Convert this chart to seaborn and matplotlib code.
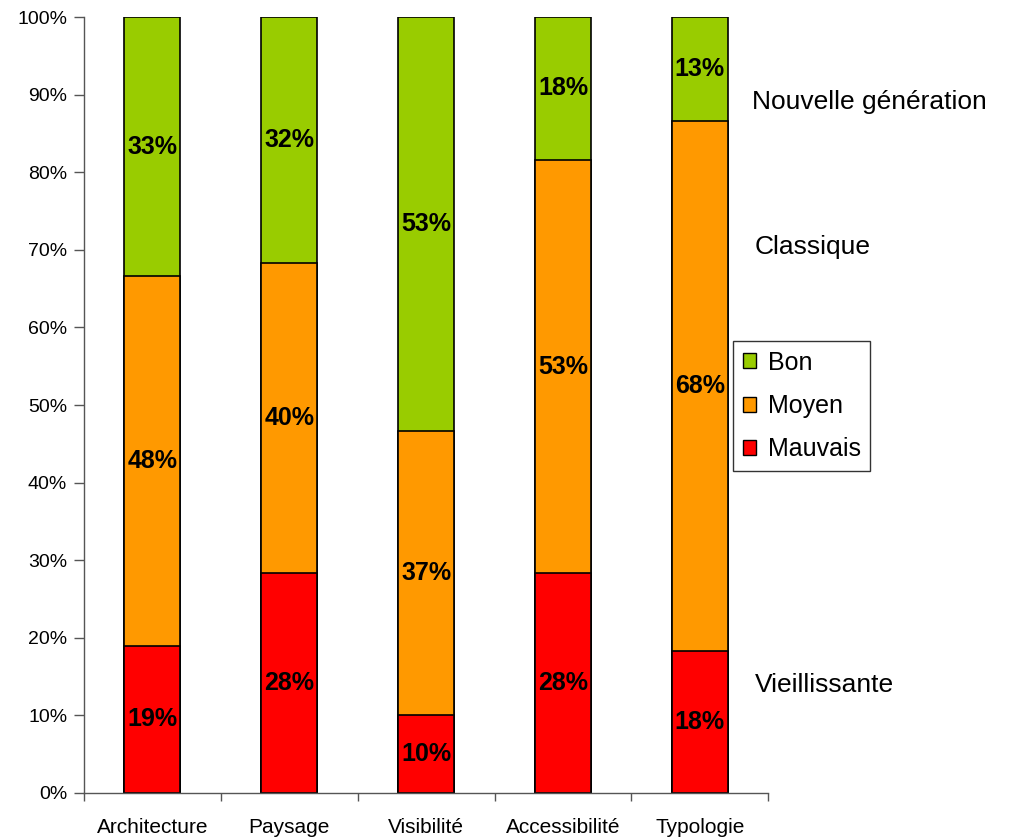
import matplotlib
matplotlib.use("Agg")
import matplotlib.pyplot as plt
from matplotlib.patches import Patch
from matplotlib.ticker import FixedLocator
import seaborn as sns
import pandas as pd
import numpy as np

categories = ["Architecture", "Paysage", "Visibilité", "Accessibilité", "Typologie"]
mauvais = [19.0, 28.3, 10.0, 28.3, 18.3]
moyen = [47.6, 40.0, 36.7, 53.3, 68.3]
bon = [33.4, 31.7, 53.3, 18.4, 13.4]
series_names = ["Bon", "Moyen", "Mauvais"]
colors = {"Bon": "#99CC00", "Moyen": "#FF9900", "Mauvais": "#FF0000"}
side_labels = ["Nouvelle génération", "Classique", "Vieillissante"]

sns.set_theme(style="white")
plt.rcParams["font.family"] = ["Liberation Sans", "DejaVu Sans"]
plt.rcParams["text.color"] = "black"

df = pd.DataFrame({"cat": categories, "Mauvais": mauvais, "Moyen": moyen, "Bon": bon})
df["top_mauvais"] = df["Mauvais"]
df["top_moyen"] = df["Mauvais"] + df["Moyen"]
df["top_bon"] = df["top_moyen"] + df["Bon"]

fig = plt.figure(figsize=(10.11, 8.38), dpi=100)
ax = fig.add_axes([0.083, 0.0537, 0.677, 0.926])

width = 0.41
# stacked bars drawn as overlapping cumulative totals
for col, name in [("top_bon", "Bon"), ("top_moyen", "Moyen"), ("top_mauvais", "Mauvais")]:
    sns.barplot(data=df, x="cat", y=col, color=colors[name], saturation=1,
                width=width, edgecolor="black", linewidth=1.2, ax=ax, errorbar=None)

# value labels centred in each segment
for i in range(len(categories)):
    bottoms = [0, mauvais[i], mauvais[i] + moyen[i]]
    vals = [mauvais[i], moyen[i], bon[i]]
    for b, v in zip(bottoms, vals):
        ax.text(i, b + v / 2, f"{round(v)}%", ha="center", va="center",
                fontsize=18, fontweight="bold", color="black")

ax.set_xlim(-0.5, len(categories) - 0.5)
ax.set_ylim(0, 100)
ax.set_yticks(np.arange(0, 101, 10))
ax.set_yticklabels([f"{v}%" for v in range(0, 101, 10)], fontsize=14, color="black")
ax.set_xticks(range(len(categories)))
ax.set_xticklabels(categories, fontsize=15, color="black")
ax.xaxis.set_minor_locator(FixedLocator(np.arange(-0.5, len(categories), 1.0)))
ax.tick_params(axis="x", which="major", length=0, pad=18)
ax.tick_params(axis="x", which="minor", length=6, width=1, color="#555555", direction="out", bottom=True)
ax.tick_params(axis="y", length=7, width=1, color="#555555", direction="out", pad=5, left=True)
ax.set_xlabel("")
ax.set_ylabel("")

for s in ["top", "right"]:
    ax.spines[s].set_visible(False)
for s in ["left", "bottom"]:
    ax.spines[s].set_color("#555555")
    ax.spines[s].set_linewidth(1)

# side annotations
fig.text(752 / 1011, 1 - 102 / 838, side_labels[0], fontsize=19, va="center", ha="left", color="black")
fig.text(755 / 1011, 1 - 247 / 838, side_labels[1], fontsize=19, va="center", ha="left", color="black")
fig.text(755 / 1011, 1 - 685 / 838, side_labels[2], fontsize=19, va="center", ha="left", color="black")

handles = [Patch(facecolor=colors[n], edgecolor="black", linewidth=1) for n in series_names]
leg = fig.legend(handles, series_names, loc="upper left",
                 bbox_to_anchor=(733 / 1011, 1 - 341 / 838), fontsize=18,
                 frameon=True, fancybox=False, handlelength=0.55, handleheight=0.55,
                 handletextpad=0.45, labelspacing=0.78, borderpad=0.38, borderaxespad=0)
leg.get_frame().set_edgecolor("black")
leg.get_frame().set_linewidth(1)
for t in leg.get_texts():
    t.set_color("black")

fig.savefig("out.png", dpi=100)
